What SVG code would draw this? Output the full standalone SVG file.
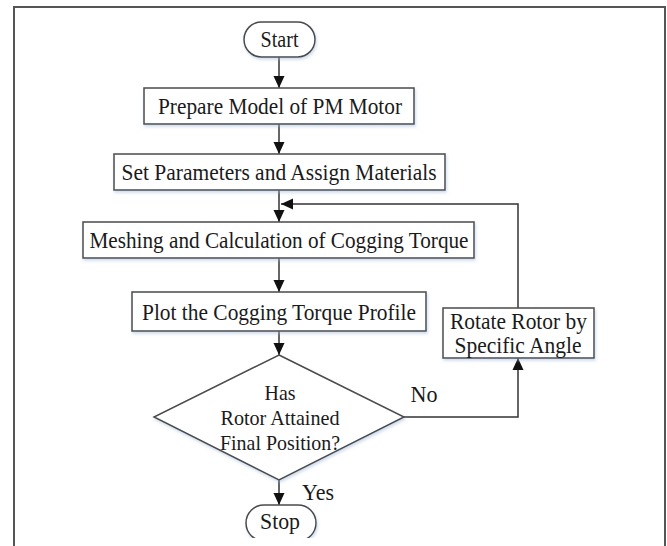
<svg xmlns="http://www.w3.org/2000/svg" width="667" height="546" viewBox="0 0 667 546">
<style>
.box{fill:#fff;stroke:#4a4a4a;stroke-width:1.5;filter:url(#sh)}
.t{font-family:"Liberation Serif","Times New Roman",serif;font-size:23px;fill:#1a1a1a;text-anchor:middle}
.d{font-size:21px}
.c{fill:none;stroke:#333;stroke-width:1.5}
</style>
<defs>
<filter id="sh" x="-10%" y="-20%" width="120%" height="150%">
<feDropShadow dx="1" dy="2" stdDeviation="1.5" flood-color="#9fb7dc" flood-opacity="0.5"/>
</filter>
<marker id="ah" viewBox="0 0 12 12" refX="12" refY="6" markerWidth="12" markerHeight="12" markerUnits="userSpaceOnUse" orient="auto">
<path d="M0,0.5 L12,6 L0,11.5 Z" fill="#111"/>
</marker>
<clipPath id="cut"><rect x="0" y="0" width="667" height="538"/></clipPath>
</defs>
<rect width="667" height="546" fill="#fff"/>
<path d="M14,546 V7 H665 V546" fill="none" stroke="#555" stroke-width="2"/>
<g id="connectors">
<line class="c" x1="279" y1="57" x2="279" y2="88" marker-end="url(#ah)"/>
<line class="c" x1="279" y1="124" x2="279" y2="154" marker-end="url(#ah)"/>
<line class="c" x1="279" y1="190" x2="279" y2="222" marker-end="url(#ah)"/>
<line class="c" x1="279" y1="258" x2="279" y2="292" marker-end="url(#ah)"/>
<line class="c" x1="279" y1="331" x2="279" y2="355" marker-end="url(#ah)"/>
<line class="c" x1="279" y1="480" x2="279" y2="505" marker-end="url(#ah)"/>
<polyline class="c" points="404,417 518,417 518,358" marker-end="url(#ah)"/>
<polyline class="c" points="518,308 518,204 281,204" marker-end="url(#ah)"/>
<text class="t" x="424" y="402" textLength="27" lengthAdjust="spacingAndGlyphs">No</text>
<text class="t" x="318" y="500" textLength="32" lengthAdjust="spacingAndGlyphs">Yes</text>
</g>
<g id="start">
<rect class="box" x="244" y="22" width="71" height="35" rx="17.5"/>
<text class="t" x="279.5" y="47" textLength="38" lengthAdjust="spacingAndGlyphs">Start</text>
</g>
<g id="prepare">
<rect class="box" x="144" y="88" width="270" height="36"/>
<text class="t" x="280" y="114" textLength="244" lengthAdjust="spacingAndGlyphs">Prepare Model of PM Motor</text>
</g>
<g id="setparams">
<rect class="box" x="114" y="154" width="331" height="36"/>
<text class="t" x="279" y="180" textLength="315" lengthAdjust="spacingAndGlyphs">Set Parameters and Assign Materials</text>
</g>
<g id="meshing">
<rect class="box" x="83" y="222" width="391" height="36"/>
<text class="t" x="279" y="248" textLength="379" lengthAdjust="spacingAndGlyphs">Meshing and Calculation of Cogging Torque</text>
</g>
<g id="plot">
<rect class="box" x="132" y="292" width="294" height="39"/>
<text class="t" x="279" y="320" textLength="274" lengthAdjust="spacingAndGlyphs">Plot the Cogging Torque Profile</text>
</g>
<g id="rotate">
<rect class="box" x="443" y="308" width="151" height="50"/>
<text class="t" x="518.5" y="329" textLength="137" lengthAdjust="spacingAndGlyphs">Rotate Rotor by</text>
<text class="t" x="518" y="353" textLength="127" lengthAdjust="spacingAndGlyphs">Specific Angle</text>
</g>
<g id="decision">
<polygon class="box" points="279,355 404,417 279,480 154,417"/>
<text class="t d" x="280" y="400" textLength="31" lengthAdjust="spacingAndGlyphs">Has</text>
<text class="t d" x="280" y="425" textLength="119" lengthAdjust="spacingAndGlyphs">Rotor Attained</text>
<text class="t d" x="280" y="450" textLength="120" lengthAdjust="spacingAndGlyphs">Final Position?</text>
</g>
<g id="stop" clip-path="url(#cut)">
<rect class="box" x="246" y="505" width="70" height="36" rx="18"/>
<text class="t" x="280" y="529" textLength="40" lengthAdjust="spacingAndGlyphs">Stop</text>
</g>
</svg>
